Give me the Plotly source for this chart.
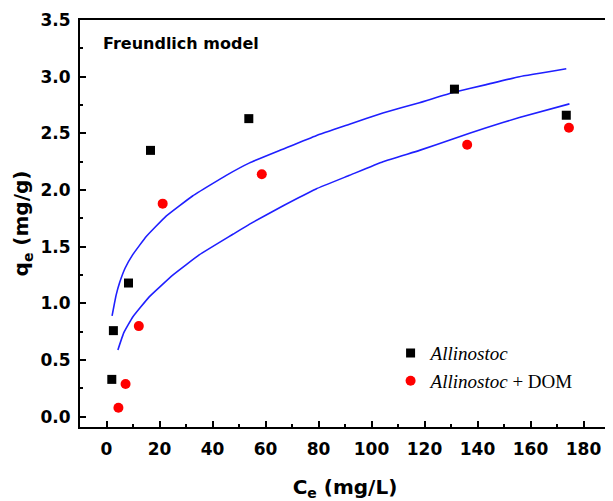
import plotly.graph_objects as go

# Experimental data
ce_allino = [2.0, 2.6, 8.3, 16.6, 53.7, 131.3, 173.5]
qe_allino = [0.33, 0.76, 1.18, 2.35, 2.63, 2.89, 2.66]
ce_dom = [4.5, 7.2, 12.2, 21.2, 58.6, 136.1, 174.5]
qe_dom = [0.08, 0.29, 0.80, 1.88, 2.14, 2.40, 2.55]

# Freundlich fit curves
fit1_x = [2.1, 3.0, 3.7, 4.9, 7.0, 9.9, 15.0, 22.5, 32.6, 45.2, 54.0, 66.5, 79.1, 91.7, 104.3, 118.1, 130.7, 143.3, 155.8, 173.5]
fit1_y = [0.89, 1.00, 1.08, 1.18, 1.31, 1.43, 1.59, 1.77, 1.95, 2.13, 2.24, 2.36, 2.48, 2.58, 2.68, 2.77, 2.86, 2.93, 3.00, 3.07]
fit2_x = [4.3, 6.5, 9.9, 16.2, 25.0, 35.1, 47.7, 54.0, 66.5, 79.1, 91.7, 104.3, 118.1, 130.7, 143.3, 155.8, 174.7]
fit2_y = [0.59, 0.74, 0.88, 1.06, 1.25, 1.43, 1.61, 1.70, 1.86, 2.01, 2.13, 2.25, 2.35, 2.45, 2.55, 2.64, 2.76]

x_ticks = list(range(0, 181, 20))
y_ticks = [0.0, 0.5, 1.0, 1.5, 2.0, 2.5, 3.0, 3.5]

BLUE = "#1f1fff"
fig = go.Figure()
fig.add_trace(go.Scatter(x=fit1_x, y=fit1_y, mode="lines", line=dict(color=BLUE, width=1.6, shape="spline", smoothing=0.3), showlegend=False, hoverinfo="skip"))
fig.add_trace(go.Scatter(x=fit2_x, y=fit2_y, mode="lines", line=dict(color=BLUE, width=1.6, shape="spline", smoothing=0.3), showlegend=False, hoverinfo="skip"))
fig.add_trace(go.Scatter(x=ce_allino, y=qe_allino, mode="markers", name="<i>Allinostoc</i>",
                         marker=dict(symbol="square", size=9, color="black")))
fig.add_trace(go.Scatter(x=ce_dom, y=qe_dom, mode="markers", name="<i>Allinostoc</i> + DOM",
                         marker=dict(symbol="circle", size=10, color="#ff0000")))

# page body has an 8px margin, so the figure is 8px smaller and margins shifted
fig.update_layout(
    width=605, height=493,
    margin=dict(l=72, r=3, t=12, b=74),
    plot_bgcolor="white", paper_bgcolor="white",
    font=dict(family="DejaVu Sans", color="black"),
    legend=dict(x=0.586, y=0.228, xanchor="left", yanchor="top",
                font=dict(family="Liberation Serif", size=19, color="black"),
                bgcolor="rgba(0,0,0,0)", itemwidth=30, tracegroupgap=0),
    annotations=[dict(text="<b>Freundlich model</b>", xref="paper", yref="paper",
                      x=0.04, y=0.943, xanchor="left", yanchor="middle", showarrow=False,
                      font=dict(family="DejaVu Sans", size=16, color="black"))],
)
fig.update_xaxes(range=[-10, 190], tickvals=x_ticks, ticks="inside", ticklen=6, tickwidth=2,
                 tickcolor="black", showline=True, linewidth=2, linecolor="black", mirror=True,
                 showgrid=False, zeroline=False, automargin=False,
                 tickfont=dict(family="DejaVu Sans", size=17, color="black", weight="bold"),
                 ticklabelstandoff=6,
                 minor=dict(dtick=10, ticks="inside", ticklen=3, tickwidth=2, tickcolor="black", showgrid=False),
                 title=dict(text="<b>C<sub>e</sub> (mg/L)</b>", font=dict(family="DejaVu Sans", size=20, color="black"), standoff=22))
fig.update_yaxes(range=[-0.09, 3.5], tickvals=y_ticks, tickformat=".1f", ticks="inside", ticklen=6, tickwidth=2,
                 tickcolor="black", showline=True, linewidth=2, linecolor="black", mirror=True,
                 showgrid=False, zeroline=False, automargin=False,
                 tickfont=dict(family="DejaVu Sans", size=17, color="black", weight="bold"),
                 ticklabelstandoff=4,
                 minor=dict(dtick=0.25, tick0=0, ticks="inside", ticklen=3, tickwidth=2, tickcolor="black", showgrid=False),
                 title=dict(text="<b>q<sub>e</sub> (mg/g)</b>", font=dict(family="DejaVu Sans", size=20, color="black"), standoff=6))
fig.write_html("out.html")
